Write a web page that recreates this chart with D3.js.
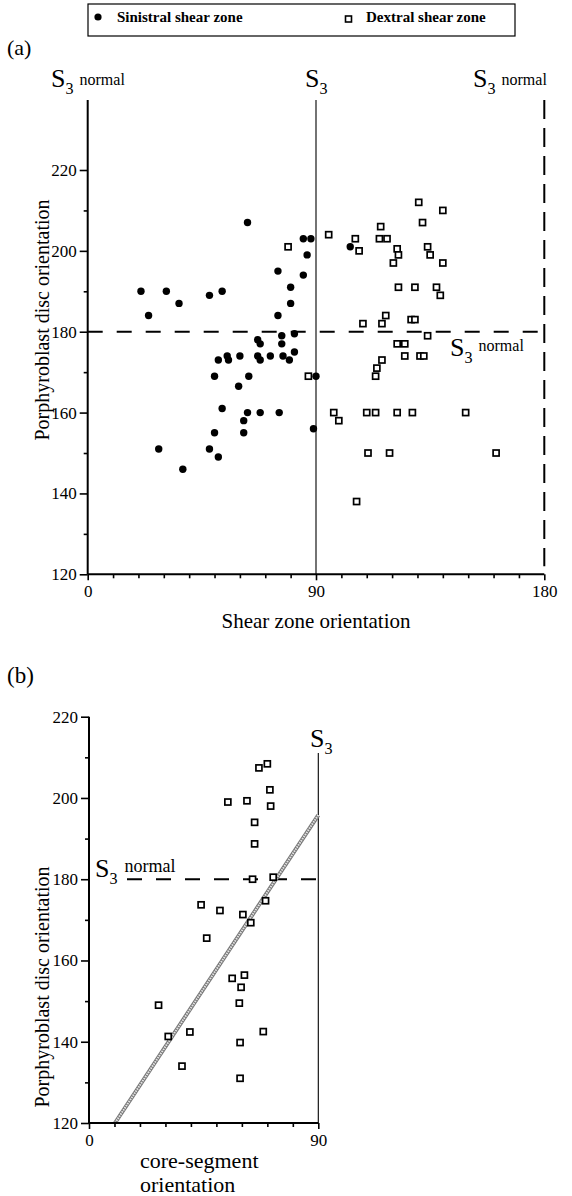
<!DOCTYPE html>
<html><head><meta charset="utf-8">
<script src="https://cdn.jsdelivr.net/npm/d3@7"></script>
<style>
html,body{margin:0;padding:0;background:#fff;}
svg{display:block;}
text{font-family:"Liberation Serif","Times New Roman",serif;fill:#000;}
</style></head>
<body>
<svg id="c" width="572" height="1196"></svg>
<script>
// ---------- DATA ----------
const yTickValues = [120, 140, 160, 180, 200, 220];
const xTickValuesA = [0, 90, 180];
const xTickValuesB = [0, 90];
const yMinorValues = [130, 150, 170, 190, 210];
const xMinorValuesA = [10, 20, 30, 40, 50, 60, 70, 80, 100, 110, 120, 130, 140, 150, 160, 170];
const xMinorValuesB = [10, 20, 30, 40, 50, 60, 70, 80];

// Panel (a): sinistral shear zones (filled circles)
const sinistralX = [21, 24, 31, 36, 48, 53, 63, 85, 88, 86.5, 75, 85, 80, 80, 75, 103.5,
  67, 68, 76.5, 76.5, 81.5, 81.5, 51.5, 55, 55.5, 60, 67, 68, 72, 77, 79.5,
  50, 63.5, 59.5, 90, 28, 37.5, 48, 50, 51.5, 53, 61.5, 61.5, 63, 68, 75.5, 89];
const sinistralY = [190, 184, 190, 187, 189, 190, 207, 203, 203, 199, 195, 194, 191, 187, 184, 201,
  178, 177, 179, 177, 179.5, 175, 173, 174, 173, 174, 174, 173, 174, 174, 173,
  169, 169, 166.5, 169, 151, 146, 151, 155, 149, 161, 158, 155, 160, 160, 160, 156];

// Panel (a): dextral shear zones (open squares)
const dextralX = [79, 87, 95, 105.5, 107, 115.5, 115, 118, 122, 122.5, 120.5, 130.5, 140, 132, 134, 135, 140,
  122.5, 129, 137.5, 139, 108.5, 116, 117.5, 127.5, 129, 134, 122, 125, 125, 131, 132.5, 116, 114, 113.5,
  97, 99, 110, 113.5, 122, 128, 149, 110.5, 119, 161, 106];
const dextralY = [201, 169, 204, 203, 200, 206, 203, 203, 200.5, 199, 197, 212, 210, 207, 201, 199, 197,
  191, 191, 191, 189, 182, 182, 184, 183, 183, 179, 177, 177, 174, 174, 174, 173, 171, 169,
  160, 158, 160, 160, 160, 160, 160, 150, 150, 150, 138];

// Panel (b): core-segment orientation (open squares)
const coreX = [71, 54.5, 62, 71.3, 65, 65, 64.2, 72.3, 69.3, 44, 51.4, 60.4, 63.5, 46.2, 66.7, 70,
  56.2, 61, 59.7, 59, 27.3, 31.1, 39.6, 68.4, 59.3, 36.5, 59.3];
const coreY = [202, 199, 199.3, 198, 194, 188.7, 180, 180.5, 174.7, 173.7, 172.3, 171.3, 169.3, 165.5, 207.4, 208.4,
  155.6, 156.4, 153.4, 149.5, 149, 141.3, 142.4, 142.5, 139.8, 134, 131];

// Panel (b): fitted line end points
const fitX = [10.2, 90];
const fitY = [120, 195.8];

const legendLabels = ["Sinistral shear zone", "Dextral shear zone"];

// ---------- DRAW ----------
const svg = d3.select("#c");

const xA = d3.scaleLinear().domain([0, 180]).range([87.7, 544.3]);
const yA = d3.scaleLinear().domain([120, 220]).range([574.3, 170]);
const xB = d3.scaleLinear().domain([0, 90]).range([89, 318.3]);
const yB = d3.scaleLinear().domain([120, 220]).range([1123, 716.7]);

function S3(g, x, y, withNormal, sSize, nSize, nGap, nRaise) {
  const t = g.append("text").attr("x", x).attr("y", y);
  t.append("tspan").attr("font-size", sSize).text("S");
  t.append("tspan").attr("font-size", sSize * 0.62).attr("dy", sSize * 0.25).text("3");
  if (withNormal) {
    t.append("tspan").attr("font-size", nSize).attr("dy", -sSize * 0.25 - (nRaise || 0)).attr("dx", nGap).text("normal");
  }
}

function styleAxis(g) {
  g.selectAll(".domain").remove();
  g.selectAll(".tick line").attr("stroke", "#000").attr("stroke-width", 1.6);
  g.selectAll(".tick text").attr("font-family", "Liberation Serif, serif").attr("font-size", 17).attr("fill", "#000");
}

// ===== Panel (a) =====
const gA = svg.append("g");

// legend
gA.append("rect").attr("x", 88).attr("y", 4).attr("width", 427).attr("height", 32)
  .attr("fill", "none").attr("stroke", "#000").attr("stroke-width", 1.2);
gA.append("circle").attr("cx", 98).attr("cy", 17).attr("r", 3.6).attr("fill", "#000");
gA.append("text").attr("x", 117).attr("y", 22).attr("font-size", 15).attr("font-weight", "bold").text(legendLabels[0]);
gA.append("rect").attr("x", 345.5).attr("y", 16).attr("width", 6).attr("height", 6)
  .attr("fill", "#fff").attr("stroke", "#000").attr("stroke-width", 1.6);
gA.append("text").attr("x", 366).attr("y", 22).attr("font-size", 15).attr("font-weight", "bold").text(legendLabels[1]);

gA.append("text").attr("x", 7).attr("y", 55).attr("font-size", 22).text("(a)");

S3(gA, 51, 87, true, 26, 16, 6, 2);
S3(gA, 305, 87, false, 26);
S3(gA, 473, 87, true, 26, 16, 6, 2);

// reference lines
gA.append("line").attr("x1", xA(90)).attr("x2", xA(90)).attr("y1", 100).attr("y2", yA(120))
  .attr("stroke", "#000").attr("stroke-width", 1.1);
gA.append("line").attr("x1", xA(180)).attr("x2", xA(180)).attr("y1", 100).attr("y2", yA(122))
  .attr("stroke", "#000").attr("stroke-width", 2).attr("stroke-dasharray", "19,9");
gA.append("line").attr("x1", xA(0)).attr("x2", xA(180)).attr("y1", yA(180)).attr("y2", yA(180))
  .attr("stroke", "#000").attr("stroke-width", 2).attr("stroke-dasharray", "15,14");

S3(gA, 450, 356, true, 26, 16, 6, 5);

// axes
const yAxisA = gA.append("g").attr("transform", `translate(${xA(0)},0)`)
  .call(d3.axisLeft(yA).tickValues(yTickValues).tickSize(8).tickPadding(3).tickFormat(d3.format("d")));
styleAxis(yAxisA);
const yMinA = gA.append("g").attr("transform", `translate(${xA(0)},0)`)
  .call(d3.axisLeft(yA).tickValues(yMinorValues).tickSize(4).tickFormat(""));
styleAxis(yMinA);
const xAxisA = gA.append("g").attr("transform", `translate(0,${yA(120)})`)
  .call(d3.axisBottom(xA).tickValues(xTickValuesA).tickSize(6).tickPadding(5).tickFormat(d3.format("d")));
styleAxis(xAxisA);
const xMinA = gA.append("g").attr("transform", `translate(0,${yA(120)})`)
  .call(d3.axisBottom(xA).tickValues(xMinorValuesA).tickSize(4).tickFormat(""));
styleAxis(xMinA);
gA.append("line").attr("x1", xA(0)).attr("x2", xA(0)).attr("y1", 100).attr("y2", yA(120))
  .attr("stroke", "#000").attr("stroke-width", 2);
gA.append("line").attr("x1", xA(0)).attr("x2", xA(180)).attr("y1", yA(120)).attr("y2", yA(120))
  .attr("stroke", "#000").attr("stroke-width", 2);

gA.append("text").attr("x", xA(90)).attr("y", 628).attr("text-anchor", "middle").attr("font-size", 21)
  .text("Shear zone orientation");
gA.append("text").attr("transform", `translate(49,320) rotate(-90)`)
  .attr("text-anchor", "middle").attr("font-size", 20).text("Porphyroblast disc orientation");

// points
const sinData = sinistralX.map((x, i) => ({ x, y: sinistralY[i] }));
const dexData = dextralX.map((x, i) => ({ x, y: dextralY[i] }));
gA.append("g").selectAll("circle").data(sinData).join("circle")
  .attr("cx", d => xA(d.x)).attr("cy", d => yA(d.y)).attr("r", 3.7).attr("fill", "#000");
gA.append("g").selectAll("rect").data(dexData).join("rect")
  .attr("x", d => xA(d.x) - 3).attr("y", d => yA(d.y) - 3).attr("width", 6).attr("height", 6)
  .attr("fill", "#fff").attr("stroke", "#000").attr("stroke-width", 1.7);

// ===== Panel (b) =====
const gB = svg.append("g");
gB.append("text").attr("x", 7).attr("y", 683).attr("font-size", 23).text("(b)");

S3(gB, 310, 747, false, 26);
gB.append("line").attr("x1", xB(90)).attr("x2", xB(90)).attr("y1", 753).attr("y2", yB(120))
  .attr("stroke", "#000").attr("stroke-width", 1.1);
gB.append("line").attr("x1", 127).attr("x2", xB(90)).attr("y1", yB(180)).attr("y2", yB(180))
  .attr("stroke", "#000").attr("stroke-width", 2).attr("stroke-dasharray", "15,14");
S3(gB, 95, 877, true, 26, 18, 7, 5);

// fitted line
const fit = fitX.map((x, i) => [xB(x), yB(fitY[i])]);
gB.append("path").attr("d", d3.line()(fit)).attr("stroke", "#777").attr("stroke-width", 4).attr("fill", "none");
gB.append("path").attr("d", d3.line()(fit)).attr("stroke", "#e4e4e4").attr("stroke-width", 2)
  .attr("stroke-dasharray", "1.5,1").attr("fill", "none");

const yAxisB = gB.append("g").attr("transform", `translate(${xB(0)},0)`)
  .call(d3.axisLeft(yB).tickValues(yTickValues).tickSize(8).tickPadding(3).tickFormat(d3.format("d")));
styleAxis(yAxisB);
const yMinB = gB.append("g").attr("transform", `translate(${xB(0)},0)`)
  .call(d3.axisLeft(yB).tickValues(yMinorValues).tickSize(4).tickFormat(""));
styleAxis(yMinB);
const xAxisB = gB.append("g").attr("transform", `translate(0,${yB(120)})`)
  .call(d3.axisBottom(xB).tickValues(xTickValuesB).tickSize(6).tickPadding(5).tickFormat(d3.format("d")));
styleAxis(xAxisB);
const xMinB = gB.append("g").attr("transform", `translate(0,${yB(120)})`)
  .call(d3.axisBottom(xB).tickValues(xMinorValuesB).tickSize(4).tickFormat(""));
styleAxis(xMinB);
gB.append("line").attr("x1", xB(0)).attr("x2", xB(0)).attr("y1", yB(220)).attr("y2", yB(120))
  .attr("stroke", "#000").attr("stroke-width", 2);
gB.append("line").attr("x1", xB(0)).attr("x2", xB(90)).attr("y1", yB(120)).attr("y2", yB(120))
  .attr("stroke", "#000").attr("stroke-width", 2);

gB.append("text").attr("x", 140).attr("y", 1168).attr("font-size", 22).text("core-segment");
gB.append("text").attr("x", 140).attr("y", 1192).attr("font-size", 22).text("orientation");
gB.append("text").attr("transform", `translate(49,987) rotate(-90)`)
  .attr("text-anchor", "middle").attr("font-size", 20).text("Porphyroblast disc orientation");

const coreData = coreX.map((x, i) => ({ x, y: coreY[i] }));
gB.append("g").selectAll("rect").data(coreData).join("rect")
  .attr("x", d => xB(d.x) - 3).attr("y", d => yB(d.y) - 3).attr("width", 6).attr("height", 6)
  .attr("fill", "#fff").attr("stroke", "#000").attr("stroke-width", 1.7);
</script>
</body></html>
